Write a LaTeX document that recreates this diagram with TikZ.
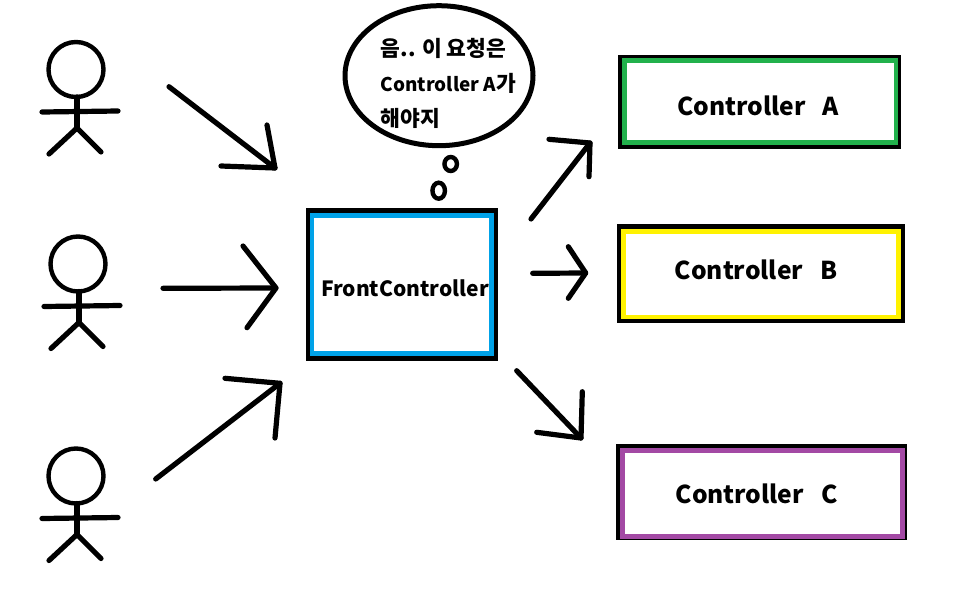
\documentclass[tikz,border=0pt]{standalone}
\usepackage{fontspec}
\setmainfont{Noto Sans CJK KR}
\usetikzlibrary{shapes.geometric}
\definecolor{paintblue}{HTML}{00A2E8}
\definecolor{paintgreen}{HTML}{22B14C}
\definecolor{paintyellow}{HTML}{FFF200}
\definecolor{paintpurple}{HTML}{A349A4}
\newcommand{\kr}[1]{{\fontsize{21.5}{35}\selectfont #1}}
\tikzset{
  stroke/.style={line width=5.2pt,line cap=round,line join=round},
  shell/.style={fill=black,inner sep=0pt,outer sep=0pt},
  frame/.style={draw,fill=white,line width=4.6pt,inner sep=0pt,outer sep=0pt},
  caption/.style={anchor=base,inner sep=0pt,font=\bfseries\fontsize{24.6}{28}\selectfont},
  bubble/.style={draw,ellipse,line width=5pt,inner sep=0pt,outer sep=0pt},
  puff/.style={bubble,line width=4.4pt},
  stickman/.pic={
    \node[draw,circle,line width=4.4pt,minimum size=55pt,inner sep=0pt,outer sep=0pt] (-head) at (0,0) {};
    \draw[stroke] (-head.south) ++(1,0) -- ++(0,31) coordinate (-hip);
    \draw[stroke] (-34,42.5) -- (42,41.5);
    \draw[stroke] (-27,84.5) -- (-hip) -- (25,82.5);
  }
}
\begin{document}
\begin{tikzpicture}[x=1pt,y=-1pt]
\useasboundingbox[fill=white] (0,0) rectangle (979,589);
% users
\pic (userA) at (76,69.5) {stickman};
\pic (userB) at (78,264) {stickman};
\pic (userC) at (76,476) {stickman};
% front controller
\node[shell,minimum width=192pt,minimum height=153pt] (frontshell) at (402,284.5) {};
\node[frame,draw=paintblue,minimum width=179.7pt,minimum height=137.9pt] (front) at (401.8,284.4) {};
\node[caption,font=\bfseries\fontsize{21}{24}\selectfont] (frontlbl) at (405,296) {FrontController};
% controllers
\node[shell,minimum width=283pt,minimum height=94pt] (shellA) at (759.5,102) {};
\node[frame,draw=paintgreen,minimum width=271.5pt,minimum height=82pt] (ctrlA) at (760.25,101.5) {};
\node[caption] (lblA) at (758,115) {Controller\hspace{17pt}A};
\node[shell,minimum width=288pt,minimum height=99pt] (shellB) at (761,273.5) {};
\node[frame,draw=paintyellow,minimum width=275.4pt,minimum height=85.9pt] (ctrlB) at (761,274.2) {};
\node[caption] (lblB) at (756,279) {Controller\hspace{17pt}B};
\node[shell,minimum width=291pt,minimum height=96pt] (shellC) at (761.5,492) {};
\node[frame,draw=paintpurple,minimum width=280pt,minimum height=86.2pt] (ctrlC) at (762.5,493.4) {};
\node[caption] (lblC) at (756.5,503) {Controller\hspace{17pt}C};
% thought bubble
\node[bubble,minimum width=188pt,minimum height=140pt] (thought) at (439,75.7) {};
\node[anchor=north west,inner sep=0pt,align=left,font=\bfseries\fontsize{18.9}{35}\selectfont] (thoughtlbl) at (380.5,38)
  {\kr{음.. 이 요청은}\\Controller A\kr{가}\\\kr{해야지}};
\node[puff,minimum width=12.5pt,minimum height=14pt] (puffA) at (450.7,164) {};
\node[puff,minimum width=12.5pt,minimum height=16pt] (puffB) at (438.7,190.7) {};
% hand drawn arrows
\foreach \arr/\sx/\sy/\tx/\ty/\ax/\ay/\bx/\by in {
  inA/169/86.7/275/168/221/166/267/125,
  inB/163/288.3/276/288/243/246/247/327.7,
  inC/155.7/479/280/383.3/225/378.3/275/438,
  outA/531/219/590/143/549/139.3/589/176.7,
  outB/532.7/273.3/585.7/273/568.3/246.7/568.3/298.3,
  outC/516.7/370.7/581/438/536.7/432.3/582.3/391.7}{
  \coordinate (\arr start) at (\sx,\sy);
  \coordinate (\arr tip) at (\tx,\ty);
  \draw[stroke] (\arr start) -- (\arr tip);
  \draw[stroke] (\ax,\ay) -- (\arr tip) -- (\bx,\by);
}
\end{tikzpicture}
\end{document}
